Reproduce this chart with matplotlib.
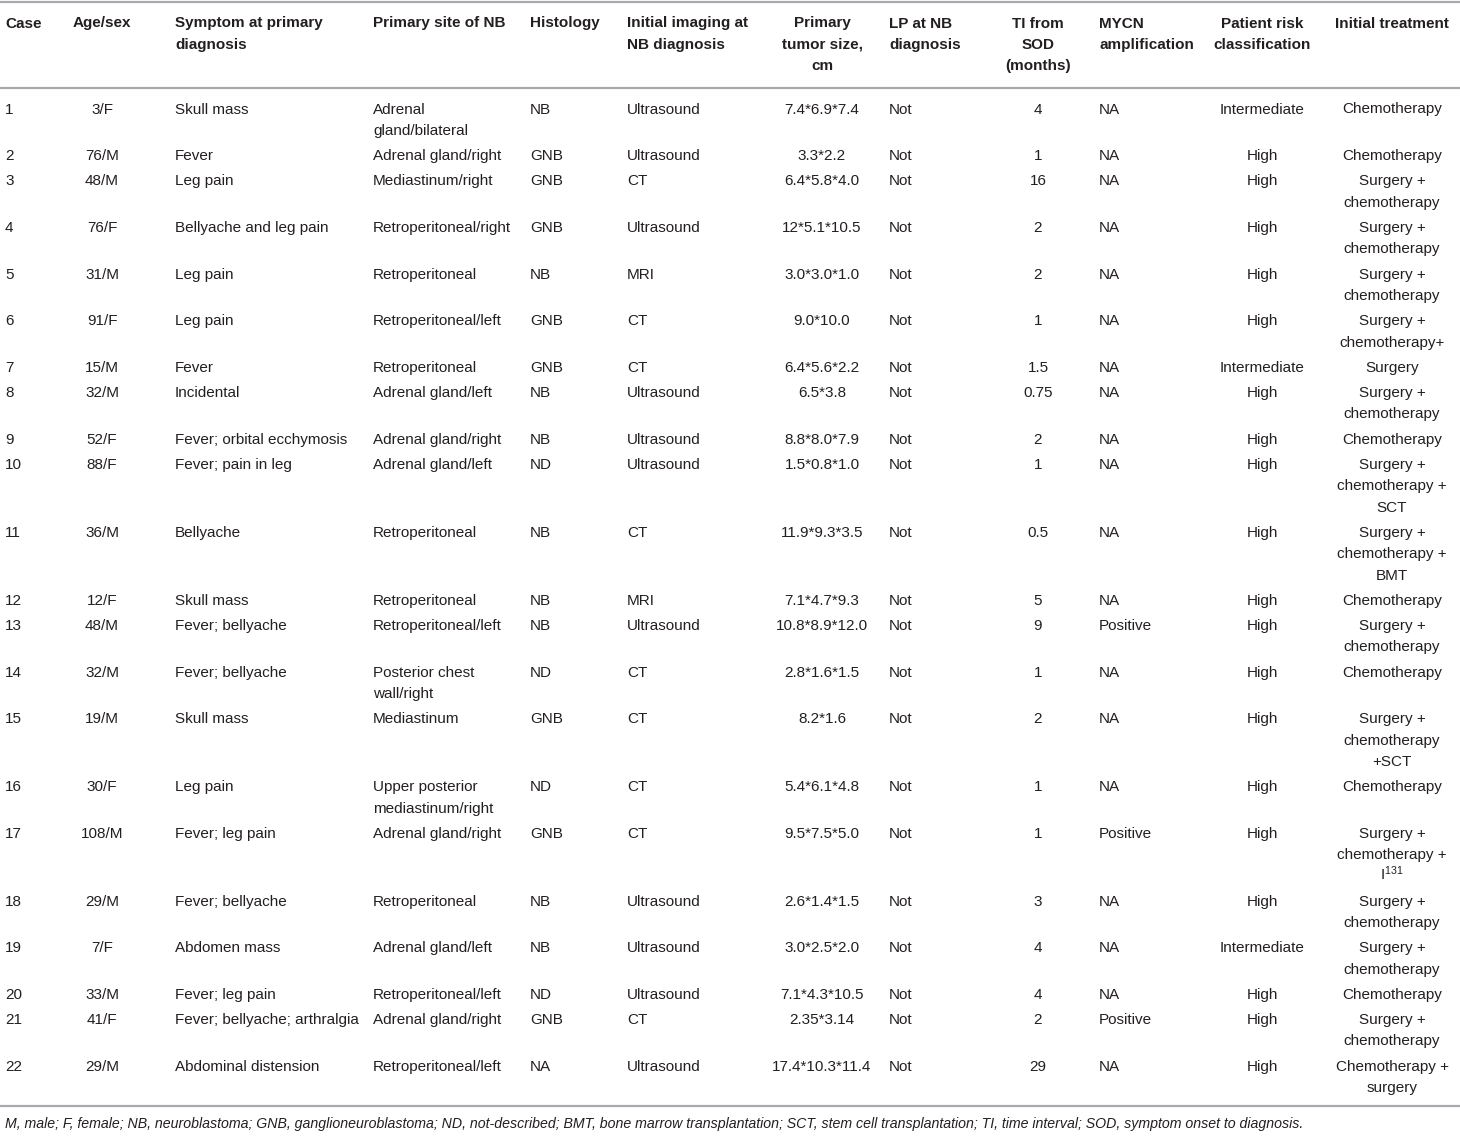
import matplotlib
matplotlib.use("Agg")
import matplotlib.pyplot as plt

plt.rcParams['font.family'] = ['Liberation Sans', 'DejaVu Sans']

headers = ["Case", "Age/sex", "Symptom at primary\ndiagnosis", "Primary site of NB", "Histology",
           "Initial imaging at\nNB diagnosis", "Primary\ntumor size,\ncm", "LP at NB\ndiagnosis",
           "TI from\nSOD\n(months)", "MYCN\namplification", "Patient risk\nclassification",
           "Initial treatment"]

case = [str(i) for i in range(1, 23)]
age_sex = ["3/F", "76/M", "48/M", "76/F", "31/M", "91/F", "15/M", "32/M", "52/F", "88/F", "36/M",
           "12/F", "48/M", "32/M", "19/M", "30/F", "108/M", "29/M", "7/F", "33/M", "41/F", "29/M"]
symptom = ["Skull mass", "Fever", "Leg pain", "Bellyache and leg pain", "Leg pain", "Leg pain",
           "Fever", "Incidental", "Fever; orbital ecchymosis", "Fever; pain in leg", "Bellyache",
           "Skull mass", "Fever; bellyache", "Fever; bellyache", "Skull mass", "Leg pain",
           "Fever; leg pain", "Fever; bellyache", "Abdomen mass", "Fever; leg pain",
           "Fever; bellyache; arthralgia", "Abdominal distension"]
site = ["Adrenal\ngland/bilateral", "Adrenal gland/right", "Mediastinum/right", "Retroperitoneal/right",
        "Retroperitoneal", "Retroperitoneal/left", "Retroperitoneal", "Adrenal gland/left",
        "Adrenal gland/right", "Adrenal gland/left", "Retroperitoneal", "Retroperitoneal",
        "Retroperitoneal/left", "Posterior chest\nwall/right", "Mediastinum",
        "Upper posterior\nmediastinum/right", "Adrenal gland/right", "Retroperitoneal",
        "Adrenal gland/left", "Retroperitoneal/left", "Adrenal gland/right", "Retroperitoneal/left"]
histology = ["NB", "GNB", "GNB", "GNB", "NB", "GNB", "GNB", "NB", "NB", "ND", "NB", "NB", "NB",
             "ND", "GNB", "ND", "GNB", "NB", "NB", "ND", "GNB", "NA"]
imaging = ["Ultrasound", "Ultrasound", "CT", "Ultrasound", "MRI", "CT", "CT", "Ultrasound",
           "Ultrasound", "Ultrasound", "CT", "MRI", "Ultrasound", "CT", "CT", "CT", "CT",
           "Ultrasound", "Ultrasound", "Ultrasound", "CT", "Ultrasound"]
size = ["7.4*6.9*7.4", "3.3*2.2", "6.4*5.8*4.0", "12*5.1*10.5", "3.0*3.0*1.0", "9.0*10.0",
        "6.4*5.6*2.2", "6.5*3.8", "8.8*8.0*7.9", "1.5*0.8*1.0", "11.9*9.3*3.5", "7.1*4.7*9.3",
        "10.8*8.9*12.0", "2.8*1.6*1.5", "8.2*1.6", "5.4*6.1*4.8", "9.5*7.5*5.0", "2.6*1.4*1.5",
        "3.0*2.5*2.0", "7.1*4.3*10.5", "2.35*3.14", "17.4*10.3*11.4"]
lp = ["Not"] * 22
ti = ["4", "1", "16", "2", "2", "1", "1.5", "0.75", "2", "1", "0.5", "5", "9", "1", "2", "1",
      "1", "3", "4", "4", "2", "29"]
mycn = ["NA", "NA", "NA", "NA", "NA", "NA", "NA", "NA", "NA", "NA", "NA", "NA", "Positive", "NA",
        "NA", "NA", "Positive", "NA", "NA", "NA", "Positive", "NA"]
risk = ["Intermediate", "High", "High", "High", "High", "High", "Intermediate", "High", "High",
        "High", "High", "High", "High", "High", "High", "High", "High", "High", "Intermediate",
        "High", "High", "High"]
sc = "Surgery +\nchemotherapy"
treatment = ["Chemotherapy", "Chemotherapy", sc, sc, sc, "Surgery +\nchemotherapy+", "Surgery", sc,
             "Chemotherapy", "Surgery +\nchemotherapy +\nSCT", "Surgery +\nchemotherapy +\nBMT",
             "Chemotherapy", sc, "Chemotherapy", "Surgery +\nchemotherapy\n+SCT", "Chemotherapy",
             "Surgery +\nchemotherapy +\nI$^{131}$", sc, sc, "Chemotherapy", sc,
             "Chemotherapy +\nsurgery"]

footnote = ("M, male; F, female; NB, neuroblastoma; GNB, ganglioneuroblastoma; ND, not-described; "
            "BMT, bone marrow transplantation; SCT, stem cell transplantation; TI, time interval; "
            "SOD, symptom onset to diagnosis.")

columns = [case, age_sex, symptom, site, histology, imaging, size, lp, ti, mycn, risk, treatment]
col_x = [5, 102, 175, 373, 530, 627, 822, 889, 1038, 1099, 1262, 1392]
col_ha = ["left", "center", "left", "left", "left", "left", "center", "left", "center", "left",
          "center", "center"]

plt.rcParams['mathtext.fontset'] = 'custom'
plt.rcParams['mathtext.rm'] = 'Liberation Sans'
plt.rcParams['mathtext.default'] = 'regular'

W, H = 1460, 1136
fig = plt.figure(figsize=(W / 100, H / 100), dpi=100)
ax = fig.add_axes([0, 0, 1, 1])
ax.set_xlim(0, W)
ax.set_ylim(H, 0)
ax.axis("off")

LINE = 21.3
FS = 11
txt_color = "#231f20"
rule_color = "#a7a9ac"

def draw_cell(x, y0, s, ha, bold=False):
    for i, line in enumerate(s.split("\n")):
        yy = y0 + i * LINE
        ax.text(x, yy + 5.5, line, ha=ha, va="baseline", fontsize=FS, color=txt_color,
                fontweight="bold" if bold else "normal")

ax.plot([0, W], [2, 2], color=rule_color, lw=1.6, solid_capstyle="butt")
ax.plot([0, W], [88, 88], color=rule_color, lw=1.6, solid_capstyle="butt")
ax.plot([0, W], [1106, 1106], color=rule_color, lw=1.6, solid_capstyle="butt")

for h, x, ha in zip(headers, col_x, col_ha):
    draw_cell(x, 22, h, ha, bold=True)

y = 108
for r in range(22):
    nlines = max(col[r].count("\n") + 1 for col in columns)
    for col, x, ha in zip(columns, col_x, col_ha):
        draw_cell(x, y, col[r], ha)
    y += nlines * LINE + 4.0

ax.text(5, 1124, footnote, ha="left", va="center", fontsize=10.2, fontstyle="italic",
        color=txt_color)

fig.savefig("out.png", dpi=100)
